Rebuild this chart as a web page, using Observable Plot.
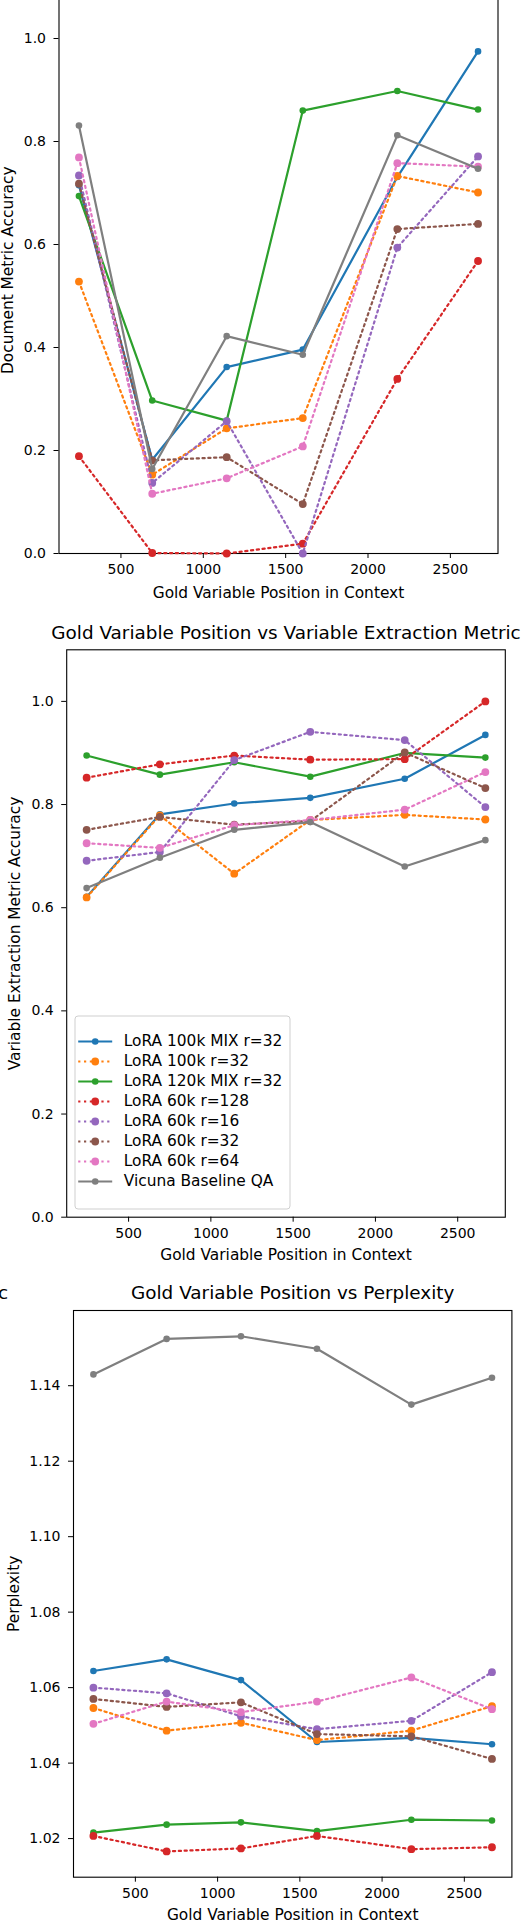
<!DOCTYPE html>
<html><head><meta charset="utf-8">
<script src="https://cdn.jsdelivr.net/npm/d3@7"></script>
<script src="https://cdn.jsdelivr.net/npm/@observablehq/plot@0.6"></script>
<style>
html,body{margin:0;padding:0;background:#fff;}
#wrap{position:relative;width:522px;height:1922px;overflow:hidden;font-family:"DejaVu Sans",sans-serif;}
#wrap svg{position:absolute;}
</style></head><body><div id="wrap"></div>
<script>
// ---- data ----
const positions = [245, 690, 1142, 1604, 2178, 2668];
const xTicks = [500, 1000, 1500, 2000, 2500];
const seriesNames = ["LoRA 100k MIX r=32", "LoRA 100k r=32", "LoRA 120k MIX r=32", "LoRA 60k r=128",
  "LoRA 60k r=16", "LoRA 60k r=32", "LoRA 60k r=64", "Vicuna Baseline QA"];
const seriesColors = ["#1f77b4", "#ff7f0e", "#2ca02c", "#d62728", "#9467bd", "#8c564b", "#e377c2", "#7f7f7f"];
const seriesDotted = [false, true, false, true, true, true, true, false];

const docAccuracy = [
  [0.715, 0.182, 0.362, 0.396, 0.731, 0.975],
  [0.528, 0.153, 0.243, 0.263, 0.733, 0.701],
  [0.694, 0.297, 0.258, 0.860, 0.898, 0.862],
  [0.189, 0.001, 0.000, 0.019, 0.339, 0.568],
  [0.734, 0.137, 0.257, 0.000, 0.594, 0.771],
  [0.718, 0.181, 0.187, 0.096, 0.630, 0.640],
  [0.769, 0.116, 0.146, 0.208, 0.758, 0.751],
  [0.831, 0.164, 0.422, 0.386, 0.812, 0.747]
];
const varAccuracy = [
  [0.621, 0.781, 0.802, 0.813, 0.850, 0.935],
  [0.620, 0.779, 0.666, 0.770, 0.780, 0.771],
  [0.895, 0.858, 0.882, 0.854, 0.900, 0.891],
  [0.852, 0.878, 0.895, 0.887, 0.888, 1.000],
  [0.691, 0.708, 0.886, 0.941, 0.925, 0.795],
  [0.751, 0.776, 0.761, 0.768, 0.901, 0.832],
  [0.725, 0.716, 0.760, 0.770, 0.790, 0.863],
  [0.638, 0.697, 0.751, 0.766, 0.680, 0.731]
];
const perplexity = [
  [1.0644, 1.0675, 1.0620, 1.0456, 1.0467, 1.0450],
  [1.0546, 1.0486, 1.0507, 1.0461, 1.0486, 1.0551],
  [1.0216, 1.0237, 1.0243, 1.0220, 1.0250, 1.0248],
  [1.0207, 1.0166, 1.0174, 1.0207, 1.0172, 1.0177],
  [1.0600, 1.0585, 1.0524, 1.0490, 1.0512, 1.0641],
  [1.0570, 1.0549, 1.0561, 1.0477, 1.0471, 1.0411],
  [1.0504, 1.0563, 1.0535, 1.0563, 1.0627, 1.0543],
  [1.1430, 1.1524, 1.1531, 1.1498, 1.1350, 1.1421]
];
const accTicks = [0, 0.2, 0.4, 0.6, 0.8, 1.0];
const pplTicks = [1.02, 1.04, 1.06, 1.08, 1.10, 1.12, 1.14];

const xLabel = "Gold Variable Position in Context";
const titles = ["", "Gold Variable Position vs Variable Extraction Metric", "Gold Variable Position vs Perplexity"];
const yLabels = ["Document Metric Accuracy", "Variable Extraction Metric Accuracy", "Perplexity"];

// ---- drawing ----
const W = 522;
const wrap = document.getElementById("wrap");
const FONT = "DejaVu Sans";

function seriesMarks(values) {
  const marks = [];
  values.forEach((vals, i) => {
    const rows = vals.map((v, j) => ({x: positions[j], y: v}));
    marks.push(Plot.line(rows, {x: "x", y: "y", stroke: seriesColors[i], strokeWidth: 2.2,
      strokeDasharray: seriesDotted[i] ? "2.2,3.6" : null, strokeLinejoin: "round"}));
    marks.push(Plot.dot(rows, {x: "x", y: "y", fill: seriesColors[i], stroke: "none",
      r: seriesDotted[i] ? 3.9 : 3.3}));
  });
  return marks;
}

function label(str, o) {
  return Plot.text([str], {text: d => d, textAnchor: "middle", lineAnchor: "middle", ...o});
}

function panel(o) {
  const height = o.height;
  const yMid = (o.yDomain[0] + o.yDomain[1]) / 2;
  const chart = Plot.plot({
    width: W, height,
    marginLeft: o.l, marginRight: W - o.r, marginTop: o.t - o.top, marginBottom: height - (o.b - o.top),
    style: {fontFamily: FONT, fontSize: "14px", background: "transparent", overflow: "visible", color: "#000"},
    x: {domain: [123.9, 2789.2]},
    y: {domain: o.yDomain},
    marks: [
      Plot.frame({stroke: "#000", strokeWidth: 1.1}),
      ...seriesMarks(o.values),
      Plot.axisX({ticks: xTicks, tickSize: 5, tickPadding: 6, tickFormat: d3.format("d"), label: null}),
      Plot.axisY({ticks: o.yTicks, tickSize: 5, tickPadding: 8, tickFormat: d3.format(o.yFmt), label: null}),
      label(xLabel, {frameAnchor: "bottom", dy: o.xlabelDy, fontSize: 15.4}),
      label(o.ylabel, {y: yMid, frameAnchor: "left", rotate: -90, dx: o.ylabelDx, fontSize: 15.4}),
      ...(o.title ? [label(o.title, {frameAnchor: "top", dy: -o.titleDy, fontSize: 18.4})] : []),
      ...(o.extra || [])
    ]
  });
  chart.style.top = o.top + "px";
  chart.style.left = "0px";
  wrap.appendChild(chart);
}

panel({values: docAccuracy, yDomain: [0, 1.1], yTicks: accTicks, yFmt: ".1f",
  top: -40, height: 648, l: 58.5, r: 497.5, t: -13.5, b: 553,
  xlabelDy: 39.7, ylabel: yLabels[0], ylabelDx: -51, title: titles[0]});

panel({values: varAccuracy, yDomain: [0, 1.1], yTicks: accTicks, yFmt: ".1f",
  top: 600, height: 672, l: 66.2, r: 504.8, t: 649.3, b: 1216.7,
  xlabelDy: 38.3, ylabel: yLabels[1], ylabelDx: -51.2, title: titles[1], titleDy: 16.3});

panel({values: perplexity, yDomain: [1.00977, 1.15993], yTicks: pplTicks, yFmt: ".2f",
  top: 1270, height: 652, l: 73, r: 511.4, t: 1310, b: 1876.7,
  xlabelDy: 38.3, ylabel: yLabels[2], ylabelDx: -59.5, title: titles[2], titleDy: 17,
  extra: [Plot.text(["c"], {text: d => d, frameAnchor: "top-left", dx: 7.5 - 73, dy: -17,
    textAnchor: "end", lineAnchor: "middle", fontSize: 18.4})]});

// ---- legend (inside panel 2) ----
const legend = Plot.plot({
  width: 216, height: 194, margin: 0,
  style: {fontFamily: FONT, fontSize: "15.4px", background: "transparent", overflow: "visible", color: "#000"},
  x: {domain: [0, 216], range: [0, 216], axis: null},
  y: {type: "point", domain: seriesNames, range: [14, 177.3], axis: null},
  marks: [
    Plot.frame({fill: "white", fillOpacity: 0.85, stroke: "#cfcfcf", strokeWidth: 1, rx: 3, inset: 0.5}),
    ...seriesNames.flatMap((name, i) => [
      Plot.link([name], {x1: 3.7, x2: 37.7, y1: d => d, y2: d => d, stroke: seriesColors[i], strokeWidth: 2.2,
        strokeDasharray: seriesDotted[i] ? "2.2,3.6" : null}),
      Plot.dot([name], {x: 20.7, y: d => d, fill: seriesColors[i], stroke: "none", r: seriesDotted[i] ? 3.9 : 3.3})
    ]),
    Plot.text(seriesNames, {x: 49.3, y: d => d, text: d => d, textAnchor: "start", lineAnchor: "middle", fontSize: 15.4})
  ]
});
legend.style.top = "1015px";
legend.style.left = "74px";
wrap.appendChild(legend);
</script>
</body></html>
